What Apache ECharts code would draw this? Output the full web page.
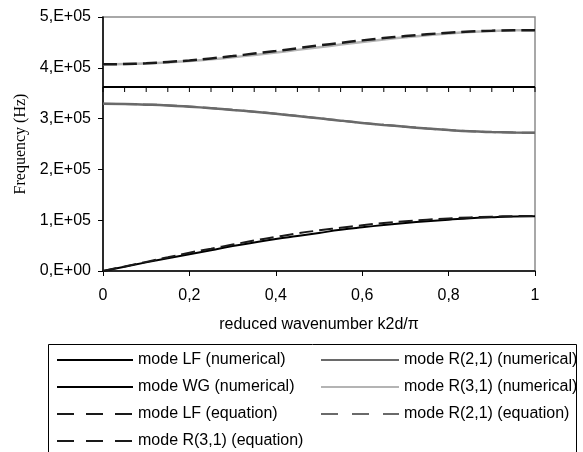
<!DOCTYPE html>
<html>
<head>
<meta charset="utf-8">
<script src="https://cdn.jsdelivr.net/npm/echarts@6/dist/echarts.min.js"></script>
<style>html,body{margin:0;padding:0;background:#fff}#c{width:583px;height:452px}</style>
</head>
<body>
<div id="c"></div>
<script>
// reduced wavenumber k2d/pi
const kx = [0,0.05,0.1,0.15,0.2,0.25,0.3,0.35,0.4,0.45,0.5,0.55,0.6,0.65,0.7,0.75,0.8,0.85,0.9,0.95,1];
// Frequencies (Hz)
const lfNum  = [0,8500,17000,25000,33000,41000,49000,56000,63000,69000,75000,81000,86000,90500,94500,98000,101000,104000,106000,107500,108000];
const wgNum  = [362000,362000,362000,362000,362000,362000,362000,362000,362000,362000,362000,362000,362000,362000,362000,362000,362000,362000,362000,362000,362000];
const lfEq   = [0,9000,18000,27000,36000,44000,52000,60000,67000,74000,80000,85000,90000,94500,98000,101000,103500,105500,107000,108000,108500];
const r31Eq  = [407000,407500,409000,411500,414500,418500,423000,428000,433000,438500,444000,449000,454000,458500,462500,466000,469000,471500,473000,474000,474000];
const r21Num = [329000,328500,327500,326000,323500,320500,317000,313500,309500,305000,300500,296000,291500,287500,284000,280500,277500,275000,273500,272500,272000];
const r31Num = [407000,407400,408600,410600,413400,416800,420800,425300,430100,435300,440500,445700,450900,455700,460200,464200,467600,470400,472400,473700,474000];
const r21Eq  = [329000,328600,327700,326200,323800,320800,317300,313700,309700,305200,300700,296200,291700,287700,284100,280600,277600,275100,273500,272500,272000];
const xTicks = [0,0.2,0.4,0.6,0.8,1];
const yTicks = [0,100000,200000,300000,400000,500000];

const pairs = arr => kx.map((x,i)=>[x,arr[i]]);
const sans = 'Liberation Sans, Arial, sans-serif';
function mk(name, arr, color, width, type, extra){
  return Object.assign({
    name, type:'line', data:pairs(arr), smooth:true, symbol:'none', showSymbol:false,
    lineStyle:{color, width, type}, itemStyle:{color}, emphasis:{disabled:true}, animation:false
  }, extra||{});
}
const series = [
  mk('mode LF (numerical)', lfNum, '#000000', 2, 'solid'),
  mk('mode WG (numerical)', wgNum, '#000000', 2, 'solid', {symbol:'rect', showSymbol:true, symbolSize:[1,5], symbolOffset:[0,2.5]}),
  mk('mode R(2,1) (numerical)', r21Num, '#6a6a6a', 2.5, 'solid'),
  mk('mode R(3,1) (numerical)', r31Num, '#b4b4b4', 2.5, 'solid'),
  mk('mode LF (equation)', lfEq, '#1a1a1a', 2, [14,6]),
  mk('mode R(2,1) (equation)', r21Eq, '#6a6a6a', 2, [14,6]),
  mk('mode R(3,1) (equation)', r31Eq, '#1a1a1a', 2.5, [14,6])
];
const legendText = {color:'#000', fontFamily:sans, fontSize:16};
// legend entries: [series name, column, row, dashed]
const legendItems = [
  ['mode LF (numerical)', 0, 0, false],
  ['mode WG (numerical)', 0, 1, false],
  ['mode LF (equation)', 0, 2, true],
  ['mode R(3,1) (equation)', 0, 3, true],
  ['mode R(2,1) (numerical)', 1, 0, false],
  ['mode R(3,1) (numerical)', 1, 1, false],
  ['mode R(2,1) (equation)', 1, 2, true]
];
const colLeft = [56, 320], colW = [76, 78], colDash = [[17,12],[17,14]], rowTop = [352, 379, 406, 433];
const legends = legendItems.map(([n,c,r,d]) => ({
  orient:'horizontal', left:colLeft[c], top:rowTop[r], padding:0, itemWidth:colW[c], itemHeight:16,
  textStyle:legendText, selectedMode:false,
  data:[d ? {name:n, itemStyle:{opacity:0}, lineStyle:{type:colDash[c]}} : {name:n, itemStyle:{opacity:0}}]
}));
const chart = echarts.init(document.getElementById('c'), null, {renderer:'canvas'});
chart.setOption({
  animation:false,
  backgroundColor:'#fff',
  grid:{left:103, right:48, top:17, bottom:181, show:true, borderColor:'#8c8c8c', borderWidth:1.5, backgroundColor:'transparent'},
  xAxis:{
    type:'value', min:0, max:1, interval:0.2,
    name:'reduced wavenumber k2d/\u03c0', nameLocation:'middle', nameGap:46,
    nameTextStyle:{color:'#000', fontFamily:sans, fontSize:16},
    axisLine:{show:true, onZero:false, lineStyle:{color:'#000', width:1.5}},
    axisTick:{show:true, length:5, lineStyle:{color:'#000'}},
    splitLine:{show:false},
    axisLabel:{color:'#000', fontFamily:sans, fontSize:16, margin:17,
      formatter:v=>String(+v.toFixed(1)).replace('.',',')}
  },
  yAxis:{
    type:'value', min:0, max:500000, interval:100000,
    name:'Frequency (Hz)', nameLocation:'middle', nameGap:73,
    nameTextStyle:{color:'#000', fontFamily:'Liberation Serif, Times New Roman, serif', fontSize:16},
    axisLine:{show:true, lineStyle:{color:'#000', width:1.5}},
    axisTick:{show:true, length:5, lineStyle:{color:'#000'}},
    splitLine:{show:false},
    axisLabel:{color:'#000', fontFamily:sans, fontSize:16, margin:12,
      formatter:v=> v===0 ? '0,E+00' : (v/100000)+',E+05'}
  },
  legend:legends,
  graphic:[{type:'rect', shape:{x:48.5, y:344.5, width:528, height:120}, style:{fill:'none', stroke:'#000', lineWidth:1}, silent:true}],
  series
});
</script>
</body>
</html>
